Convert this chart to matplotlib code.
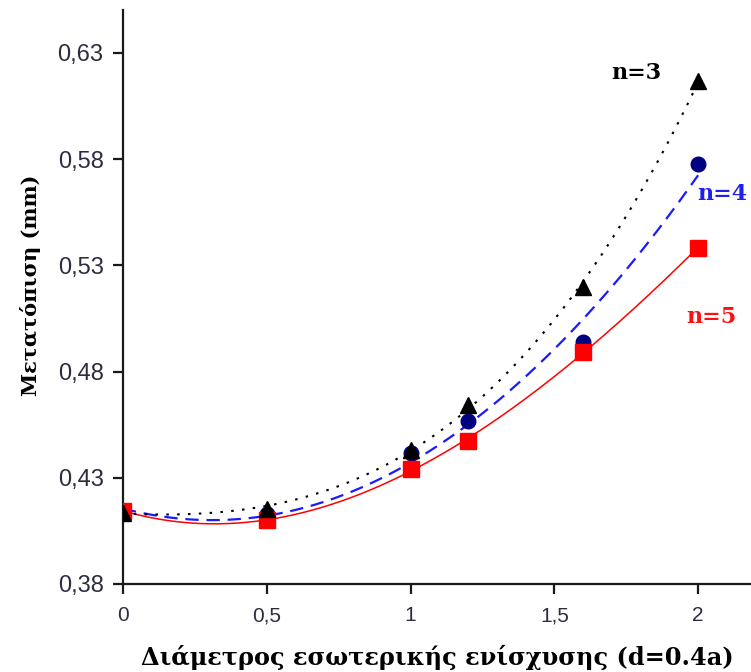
import numpy as np
import matplotlib
matplotlib.use("Agg")
import matplotlib.pyplot as plt
from matplotlib.ticker import FixedLocator, FuncFormatter

# Diameter of internal reinforcement (d = 0.4a)
x_vals = [0.0, 0.5, 1.0, 1.2, 1.6, 2.0]

# Displacement (mm) for each n
disp_n3 = [0.4135, 0.4154, 0.4432, 0.4644, 0.5200, 0.6168]
disp_n4 = [0.4140, 0.4130, 0.4418, 0.4569, 0.4937, 0.5776]
disp_n5 = [0.4144, 0.4102, 0.4340, 0.4472, 0.4894, 0.5383]

series_labels = ["n=3", "n=4", "n=5"]
trend_orders = [3, 2, 3]
y_ticks = [0.38, 0.43, 0.48, 0.53, 0.58, 0.63]
x_ticks = [0, 0.5, 1, 1.5, 2]

serif = ["DejaVu Serif"]
sans = ["Liberation Sans", "DejaVu Sans"]

fig = plt.figure(figsize=(7.51, 6.72), dpi=100)
ax = fig.add_axes([0.1638, 0.131, 0.8362, 0.854])

xs = np.array(x_vals)
xf = np.linspace(0, 2, 300)


def trend(y, order):
    c = np.polyfit(xs, np.array(y), order)
    return np.polyval(c, xf)


# Polynomial trendlines
ax.plot(xf, trend(disp_n5, trend_orders[2]), color="#ff0000", lw=1.1,
        ls="-", zorder=2)
ax.plot(xf, trend(disp_n4, trend_orders[1]), color="#1a1aff", lw=1.6,
        ls=(0, (6, 3.5)), zorder=2)
ax.plot(xf, trend(disp_n3, trend_orders[0]), color="black", lw=1.5,
        ls=(0, (1.2, 4)), zorder=2)

# Data markers
ax.plot(xs, disp_n4, ls="none", marker="o", ms=10.5, color="#000080", zorder=3)
ax.plot(xs, disp_n5, ls="none", marker="s", ms=11.5, color="#ff0000", zorder=4)
ax.plot(xs, disp_n3, ls="none", marker="^", ms=12, color="black", zorder=5)

# Series labels
ax.text(1.785, 0.6206, series_labels[0], color="black", fontsize=16,
        fontweight="bold", family=serif, ha="center", va="center")
ax.text(2.083, 0.5635, series_labels[1], color="#2020ee", fontsize=16,
        fontweight="bold", family=serif, ha="center", va="center")
ax.text(2.045, 0.5055, series_labels[2], color="#ff1010", fontsize=16,
        fontweight="bold", family=serif, ha="center", va="center")

ax.set_xlim(0, 2.184)
ax.set_ylim(0.38, 0.6502)

comma = FuncFormatter(lambda v, p: ("%g" % round(v, 2)).replace(".", ","))
ax.xaxis.set_major_locator(FixedLocator(x_ticks))
ax.yaxis.set_major_locator(FixedLocator(y_ticks))
ax.xaxis.set_major_formatter(comma)
ax.yaxis.set_major_formatter(comma)

for s in ["top", "right"]:
    ax.spines[s].set_visible(False)
for s in ["left", "bottom"]:
    ax.spines[s].set_linewidth(1.6)
    ax.spines[s].set_color("#1a1a1a")

ax.tick_params(axis="both", direction="out", length=7, width=1.6,
               color="#1a1a1a", labelcolor="#2d2d40")
ax.tick_params(axis="x", pad=9, labelsize=15)
ax.tick_params(axis="y", pad=7, labelsize=17)
for lab in ax.get_xticklabels() + ax.get_yticklabels():
    lab.set_family(sans)

ax.set_xlabel("Διάμετρος εσωτερικής ενίσχυσης (d=0.4a)", fontsize=17.3,
              fontweight="bold", family=serif, labelpad=14)
ax.set_ylabel("Μετατόπιση (mm)", fontsize=15, fontweight="bold",
              family=serif)
ax.yaxis.set_label_coords(-0.131, 0.521)

fig.savefig("out.png", dpi=100)
